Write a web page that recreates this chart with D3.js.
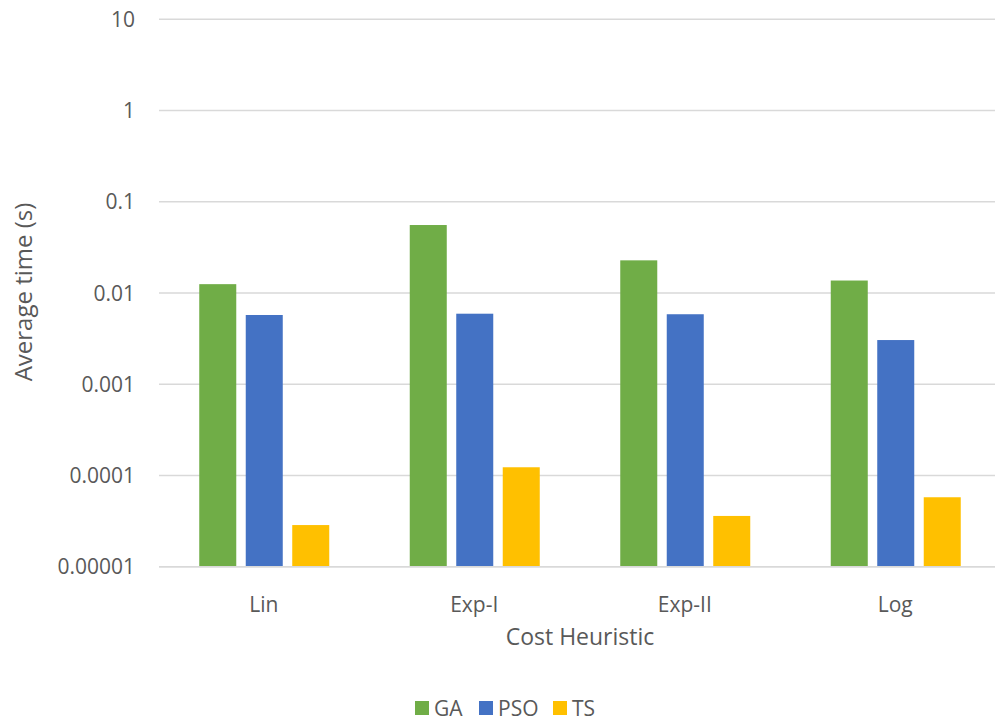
<!DOCTYPE html>
<html>
<head>
<meta charset="utf-8">
<script src="https://cdn.jsdelivr.net/npm/d3@7"></script>
<style>
  html, body { margin: 0; padding: 0; background: #fff; }
  svg { display: block; }
  text { font-family: "Open Sans", "Noto Sans", sans-serif; fill: #595959; }
</style>
</head>
<body>
<svg id="chart" width="995" height="722"></svg>
<script>
// Average run time per cost heuristic, seconds
const categories = ["Lin", "Exp-I", "Exp-II", "Log"];
const seriesNames = ["GA", "PSO", "TS"];
const gaValues  = [0.0125, 0.0556, 0.0228, 0.0137];
const psoValues = [0.00574, 0.00593, 0.00585, 0.00305];
const tsValues  = [0.0000286, 0.000123, 0.000036, 0.0000577];
const yTicks = [0.00001, 0.0001, 0.001, 0.01, 0.1, 1, 10];
const yTickLabels = ["0.00001", "0.0001", "0.001", "0.01", "0.1", "1", "10"];

const colors = { GA: "#70AD47", PSO: "#4472C4", TS: "#FFC000" };
const valuesBySeries = { GA: gaValues, PSO: psoValues, TS: tsValues };

const svg = d3.select("#chart");
const plotLeft = 159, plotRight = 1001, plotTop = 19.3, plotBottom = 566.7;

const x0 = d3.scaleBand().domain(categories).range([plotLeft, plotRight]).padding(0);
const groupW = 130;
const x1 = d3.scaleBand().domain(seriesNames).range([0, groupW]).paddingInner(0.204).paddingOuter(0);
const y = d3.scaleLog().domain([1e-5, 10]).range([plotBottom, plotTop]);

// Gridlines
svg.append("g").selectAll("line").data(yTicks).join("line")
  .attr("x1", plotLeft).attr("x2", 995)
  .attr("y1", d => y(d)).attr("y2", d => y(d))
  .attr("stroke", "#D9D9D9").attr("stroke-width", 1.4);

// Y tick labels
svg.append("g").selectAll("text").data(yTicks).join("text")
  .attr("x", 135).attr("y", d => y(d)).attr("dy", "0.36em")
  .attr("text-anchor", "end").attr("font-size", 21)
  .text((d, i) => yTickLabels[i]);

// Bars
const groups = svg.append("g").selectAll("g").data(categories).join("g")
  .attr("transform", c => `translate(${x0(c) + (x0.bandwidth() - groupW) / 2},0)`);

groups.selectAll("rect")
  .data((c, ci) => seriesNames.map(s => ({ s, v: valuesBySeries[s][ci] })))
  .join("rect")
  .attr("x", d => x1(d.s))
  .attr("width", x1.bandwidth())
  .attr("y", d => y(d.v))
  .attr("height", d => plotBottom - y(d.v))
  .attr("fill", d => colors[d.s]);

// Axis baseline drawn over the bars
svg.append("line")
  .attr("x1", plotLeft).attr("x2", 995).attr("y1", plotBottom).attr("y2", plotBottom)
  .attr("stroke", "#D9D9D9").attr("stroke-width", 1.4);

// Category labels
svg.append("g").selectAll("text").data(categories).join("text")
  .attr("x", c => x0(c) + x0.bandwidth() / 2 - 0.5)
  .attr("y", 612)
  .attr("text-anchor", "middle").attr("font-size", 21)
  .text(c => c);

// Axis titles
svg.append("text")
  .attr("x", 580).attr("y", 645)
  .attr("text-anchor", "middle").attr("font-size", 23)
  .text("Cost Heuristic");

svg.append("text")
  .attr("transform", "translate(32,292) rotate(-90)")
  .attr("text-anchor", "middle").attr("font-size", 24)
  .text("Average time (s)");

// Legend
const legendItems = [
  { s: "GA", x: 415 },
  { s: "PSO", x: 479 },
  { s: "TS", x: 553 }
];
const lg = svg.append("g").selectAll("g").data(legendItems).join("g")
  .attr("transform", d => `translate(${d.x},701)`);
lg.append("rect").attr("width", 14).attr("height", 14).attr("fill", d => colors[d.s]);
lg.append("text").attr("x", 19).attr("y", 7).attr("dy", "0.36em")
  .attr("font-size", 21).text(d => d.s);
</script>
</body>
</html>
